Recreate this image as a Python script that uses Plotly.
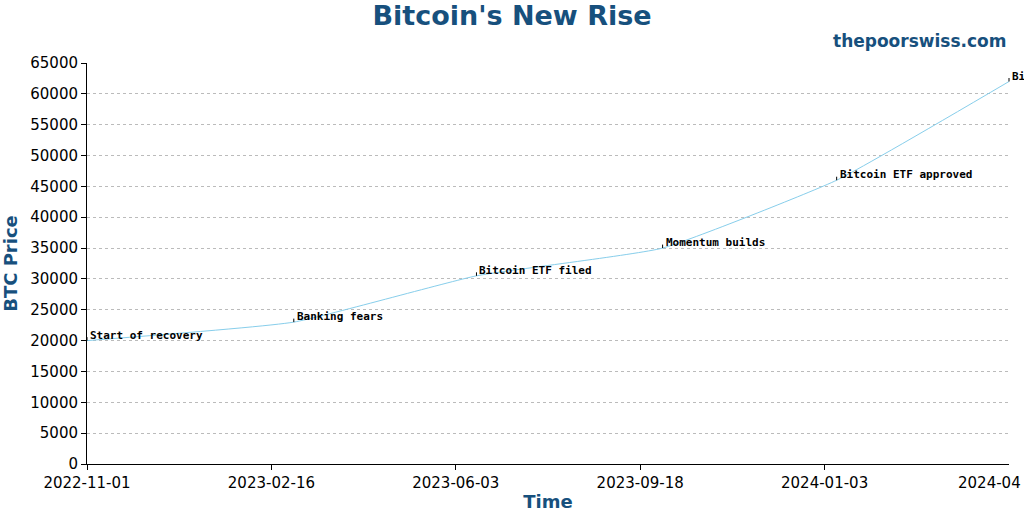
import plotly.graph_objects as go

dates = ["2022-11-01", "2023-03-01", "2023-06-15", "2023-10-01", "2024-01-10", "2024-04-19"]
prices = [20000, 23000, 30500, 35000, 46000, 62000]
events = ["Start of recovery", "Banking fears", "Bitcoin ETF filed", "Momentum builds", "Bitcoin ETF approved", "Bitcoin halving"]
tickvals = ["2022-11-01", "2023-02-16", "2023-06-03", "2023-09-18", "2024-01-03", "2024-04-19"]
ticktext = ["2022-11-01", "2023-02-16", "2023-06-03", "2023-09-18", "2024-01-03", "2024-04"]

navy = "#17507d"
fig = go.Figure(go.Scatter(x=dates, y=prices, mode="lines", line=dict(color="#87CEEB", width=1, shape="spline", smoothing=0.4), cliponaxis=False))
for d, p, e in zip(dates, prices, events):
    fig.add_annotation(x=d, y=p, text=" ", showarrow=True, arrowhead=0, arrowwidth=1, arrowcolor="black",
                       ax=0, ay=-6, font=dict(size=2))
    fig.add_annotation(x=d, y=p, text="<b>" + e + "</b>", showarrow=False, xanchor="left", yanchor="bottom",
                       xshift=1, yshift=-3, font=dict(family="DejaVu Sans Mono", size=11, color="black"))
fig.add_annotation(xref="paper", yref="paper", x=1.0, y=1.025, xanchor="right", yanchor="bottom", showarrow=False,
                   text="<b>thepoorswiss.com</b>", font=dict(family="DejaVu Sans", size=17, color=navy))
fig.add_annotation(xref="paper", yref="paper", x=1.0, y=0, xshift=14, yshift=-8, xanchor="right", yanchor="top", showarrow=False,
                   text=ticktext[-1], font=dict(family="DejaVu Sans", size=15, color="black"))
fig.update_layout(
    width=1024, height=512, plot_bgcolor="white", paper_bgcolor="white",
    margin=dict(l=87, r=15, t=63, b=48, autoexpand=False),
    title=dict(text="<b>Bitcoin's New Rise</b>", x=0.5, xanchor="center", y=0.988, yanchor="top",
               font=dict(family="DejaVu Sans", size=27, color=navy)),
    showlegend=False,
    font=dict(family="DejaVu Sans", size=15, color="black"),
)
fig.update_xaxes(range=["2022-11-01", "2024-04-19"], tickvals=tickvals[:-1], ticktext=ticktext[:-1], showgrid=False, automargin=False,
                 showline=True, linecolor="black", ticks="outside", ticklen=5, tickcolor="black",
                 title=dict(text="<b>Time</b>", font=dict(size=18, color=navy), standoff=4))
fig.update_yaxes(range=[0, 65000], dtick=5000, tickformat="d", showgrid=True, gridcolor="#bbbbbb", griddash="dot", automargin=False,
                 showline=True, linecolor="black", ticks="outside", ticklen=5, tickcolor="black", zeroline=False,
                 title=dict(text="<b>BTC Price</b>", font=dict(size=18, color=navy), standoff=8))
fig.write_html("out.html", config={"displayModeBar": False},
               post_script="document.body.style.margin='0';document.body.style.overflow='hidden';")
